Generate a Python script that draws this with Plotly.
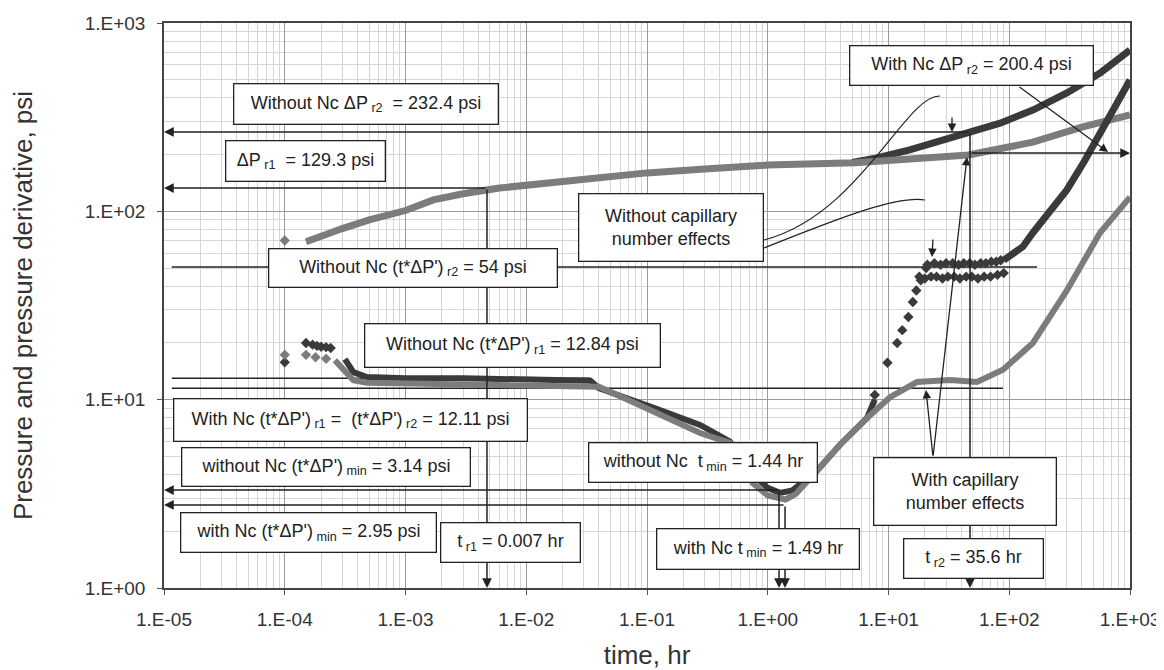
import math
import plotly.graph_objects as go

# ---------------- data ----------------
# Pressure with capillary number effects (gray)
pw_t = [1.5e-4, 2e-4, 3e-4, 5e-4, 1e-3, 1.7e-3, 3e-3, 6e-3, 1e-2, 3e-2, 0.1, 0.3, 1.0, 5.3, 12.4, 46, 157, 400, 1000]
pw_p = [69, 74, 81, 90, 101, 115, 124, 133, 138, 149, 160, 168, 176, 181, 187, 199, 233, 280, 325]
pw_first_t = [1.0e-4]
pw_first_p = [70]
# Pressure without capillary number effects (dark)
pn_t = [5.0, 8.0, 15, 23.4, 47, 84, 157, 300, 565, 1000]
pn_p = [182, 192, 212, 231, 262, 294, 345, 425, 542, 719]

# Derivative without Nc (dark)
dn_early_t = [1.0e-4, 1.5e-4, 1.7e-4, 1.85e-4, 2.0e-4, 2.2e-4, 2.4e-4]
dn_early_p = [15.8, 20.0, 19.6, 19.3, 19.1, 19.0, 18.8]
dn_t = [3.15e-4, 3.7e-4, 4.8e-4, 1e-3, 3e-3, 1e-2, 3.4e-2, 0.04, 0.077, 0.128, 0.275, 0.486, 0.755, 1.0, 1.26, 1.6, 2.56, 4.0, 6.64, 7.7]
dn_p = [16.4, 14.0, 13.2, 13.0, 13.0, 12.9, 12.6, 11.5, 10.0, 8.8, 7.34, 6.0, 4.0, 3.4, 3.2, 3.3, 4.2, 5.8, 8.0, 10.0]
dn_ramp_t = [7.7, 9.8, 11.8, 13.0, 14.6, 15.9, 17.0, 18.5, 20.5]
dn_ramp_p = [10.6, 15.7, 20.0, 23.4, 27.5, 33.0, 38.0, 43.0, 50.0]
dn_up_t = [21, 24, 27, 30, 34, 38, 42, 47, 52, 58, 64, 71, 78, 85]
dn_up_p = [52, 53, 52, 53, 53, 52, 53, 53, 52, 53, 53, 54, 54, 55]
dn_lo_t = [18, 20, 22.5, 25, 28, 31, 35, 39, 44, 49, 55, 62, 70, 80, 90]
dn_lo_p = [45, 44, 45, 45, 44, 45, 45, 44, 45, 45, 44, 45, 45, 46, 47]
dn_late_t = [90, 130, 157, 220, 300, 420, 565, 1000]
dn_late_p = [55, 65, 77, 100, 130, 185, 261, 498]

# Derivative with Nc (gray)
dw_early_t = [1.0e-4, 1.5e-4, 1.8e-4, 2.2e-4]
dw_early_p = [17.3, 17.3, 16.8, 16.5]
dw_t = [2.6e-4, 3.7e-4, 4.8e-4, 1e-3, 3e-3, 1e-2, 3.4e-2, 0.04, 0.077, 0.128, 0.275, 0.486, 0.6, 0.755, 1.0, 1.4, 1.7, 2.56, 4.0, 6.64, 10.3, 17.2, 32.3, 54, 88.7, 157, 180, 300, 565, 1000]
dw_p = [16.2, 12.7, 12.3, 12.2, 12.1, 12.0, 11.9, 11.7, 9.7, 8.3, 6.65, 5.9, 4.8, 3.6, 3.1, 2.95, 3.15, 4.2, 5.8, 8.0, 10.3, 12.4, 12.7, 12.4, 14.4, 20, 23, 38, 77, 119]

# Reference values (as drawn)
dp_r2_without = 264
dp_r2_with = 204
dp_r1 = 133
der_r2_without = 50.6
der_r1_without = 13.0
der_r1_with = 11.5
dmin_without = 3.31
dmin_with = 2.76
t_r1 = 0.00473
t_r2 = 47.3
tmin_without = 1.24
tmin_with = 1.39
t_left = 1e-5
t_right = 1000
der_line_start = 1.16e-5
der_r2_end = 170
der_r1_without_end = 0.034
der_r1_with_end = 88.7

x_ticks = [1e-5, 1e-4, 1e-3, 1e-2, 1e-1, 1, 10, 100, 1000]
x_ticktext = ["1.E-05", "1.E-04", "1.E-03", "1.E-02", "1.E-01", "1.E+00", "1.E+01", "1.E+02", "1.E+03"]
y_ticks = [1, 10, 100, 1000]
y_ticktext = ["1.E+00", "1.E+01", "1.E+02", "1.E+03"]

DARK = "#3a3a3a"
GRAY = "#7c7c7c"
INK = "#222222"
FONT = "Liberation Sans, Arial, sans-serif"

# ---------------- figure ----------------
OFF = 8                      # page body margin
W, H = 1156, 662
L, R, T, B = 156, 34, 15, 82
PW, PH = W - L - R, H - T - B


def px(x):                   # page pixel -> paper
    return (x - OFF - L) / PW


def py(y):
    return (H - B - (y - OFF)) / PH


fig = go.Figure()

# reference lines without arrowheads
for (x0, x1, yv) in [(der_line_start, der_r2_end, der_r2_without),
                     (der_line_start, der_r1_without_end, der_r1_without),
                     (der_line_start, der_r1_with_end, der_r1_with)]:
    fig.add_trace(go.Scatter(x=[x0, x1], y=[yv, yv], mode="lines",
                             line=dict(color=INK, width=1.6), hoverinfo="skip", showlegend=False))

# pressure curves
fig.add_trace(go.Scatter(x=pn_t, y=pn_p, mode="lines", line=dict(color=DARK, width=7),
                         showlegend=False))
fig.add_trace(go.Scatter(x=pw_t, y=pw_p, mode="lines", line=dict(color=GRAY, width=7),
                         showlegend=False))
fig.add_trace(go.Scatter(x=pw_first_t, y=pw_first_p, mode="markers",
                         marker=dict(symbol="diamond", size=8, color=GRAY), showlegend=False))

# derivative without Nc (dark)
fig.add_trace(go.Scatter(x=dn_t, y=dn_p, mode="lines", line=dict(color=DARK, width=6), showlegend=False))
for xs, ys in [(dn_early_t, dn_early_p), (dn_ramp_t, dn_ramp_p), (dn_up_t, dn_up_p), (dn_lo_t, dn_lo_p)]:
    fig.add_trace(go.Scatter(x=xs, y=ys, mode="markers",
                             marker=dict(symbol="diamond", size=8, color=DARK), showlegend=False))
fig.add_trace(go.Scatter(x=dn_late_t, y=dn_late_p, mode="lines", line=dict(color=DARK, width=7), showlegend=False))

# derivative with Nc (gray)
fig.add_trace(go.Scatter(x=dw_early_t, y=dw_early_p, mode="markers",
                         marker=dict(symbol="diamond", size=8, color=GRAY), showlegend=False))
fig.add_trace(go.Scatter(x=dw_t, y=dw_p, mode="lines", line=dict(color=GRAY, width=6), showlegend=False))

lg = math.log10
annotations = []


def data_arrow(hx, hy, tx, ty):
    annotations.append(dict(x=lg(hx), y=lg(hy), ax=lg(tx), ay=lg(ty), xref="x", yref="y",
                            axref="x", ayref="y", text="", showarrow=True, arrowhead=2,
                            arrowsize=1.3, arrowwidth=1.5, arrowcolor=INK, standoff=0))


# horizontal arrows to the left axis
data_arrow(t_left, dp_r2_without, t_r2, dp_r2_without)
data_arrow(t_left, dp_r1, t_r1, dp_r1)
data_arrow(t_left, dmin_without, tmin_without, dmin_without)
data_arrow(t_left, dmin_with, tmin_with, dmin_with)
# horizontal arrow to the right axis
data_arrow(t_right, dp_r2_with, t_r2, dp_r2_with)
# vertical arrows to the time axis
data_arrow(t_r1, 1, t_r1, dp_r1)
data_arrow(t_r2, 1, t_r2, dp_r2_without)
data_arrow(tmin_without, 1, tmin_without, dmin_without)
data_arrow(tmin_with, 1, tmin_with, dmin_with)


def pix_arrow(hx, hy, tx, ty):
    annotations.append(dict(x=px(hx), y=py(hy), xref="paper", yref="paper",
                            ax=tx - hx, ay=ty - hy, text="", showarrow=True, arrowhead=2,
                            arrowsize=1.3, arrowwidth=1.3, arrowcolor=INK, standoff=0))


pix_arrow(1108, 152, 1018, 86)
pix_arrow(926, 390, 933, 457)
pix_arrow(967, 157, 933, 457)
pix_arrow(952, 132, 952, 116)
pix_arrow(932, 257, 933, 238)

shapes = []


def curve(pts):
    s = "M {:.4f},{:.4f} C".format(px(pts[0][0]), py(pts[0][1]))
    s += " ".join(" {:.4f},{:.4f}".format(px(a), py(b)) for a, b in pts[1:])
    shapes.append(dict(type="path", path=s, xref="paper", yref="paper",
                       line=dict(color=INK, width=1.2)))


curve([(764, 240), (860, 215), (905, 95), (940, 96), (948, 97), (952, 104), (952, 118)])
curve([(764, 248), (830, 222), (895, 195), (925, 200), (935, 203), (933, 222), (933, 240)])

boxes = [
    ((233, 83, 499, 125), "Without Nc ΔP<sub> r2</sub>  = 232.4 psi", "center"),
    ((225, 140, 386, 182), "ΔP<sub> r1</sub>  = 129.3 psi", "center"),
    ((849, 45, 1094, 86), "With Nc ΔP<sub> r2</sub> = 200.4 psi", "center"),
    ((578, 193, 764, 262), "Without capillary<br>number effects", "center"),
    ((268, 248, 558, 288), "Without Nc (t*ΔP')<sub> r2</sub> = 54 psi", "center"),
    ((364, 323, 661, 368), "Without Nc (t*ΔP')<sub> r1</sub> = 12.84 psi", "center"),
    ((173, 398, 528, 442), "With Nc (t*ΔP')<sub> r1</sub> =  (t*ΔP')<sub> r2</sub> = 12.11 psi", "center"),
    ((181, 447, 471, 487), "without Nc (t*ΔP')<sub> min</sub> = 3.14 psi", "center"),
    ((180, 512, 437, 553), "with Nc (t*ΔP')<sub> min</sub> = 2.95 psi", "center"),
    ((440, 522, 581, 563), "t<sub> r1</sub> = 0.007 hr", "center"),
    ((588, 442, 818, 483), "without Nc  t<sub> min</sub> = 1.44 hr", "center"),
    ((656, 528, 860, 570), "with Nc t<sub> min</sub> = 1.49 hr", "center"),
    ((873, 457, 1057, 526), "With capillary<br>number effects", "center"),
    ((903, 538, 1044, 579), "t<sub> r2</sub> = 35.6 hr", "center"),
]
BW = 1.3
for (x0, y0, x1, y1), txt, al in boxes:
    annotations.append(dict(x=px(x0), y=py(y0), xref="paper", yref="paper", xanchor="left",
                            yanchor="top", text=txt, showarrow=False, align=al, valign="middle",
                            width=x1 - x0 - 2 * BW, height=y1 - y0 - 2 * BW, borderpad=0,
                            bordercolor=INK, borderwidth=BW, bgcolor="white",
                            font=dict(family=FONT, size=18, color=INK)))

minor_x = [d * 10 ** e for e in range(-5, 3) for d in range(2, 10)]
minor_y = [d * 10 ** e for e in range(0, 3) for d in range(2, 10)]

fig.update_layout(
    width=W, height=H, margin=dict(l=L, r=R, t=T, b=B, autoexpand=False),
    paper_bgcolor="white", plot_bgcolor="white",
    font=dict(family=FONT, color="#333333"),
    annotations=annotations, shapes=shapes, showlegend=False,
    xaxis=dict(type="log", range=[-5, 3], tickvals=x_ticks, ticktext=x_ticktext,
               tickfont=dict(size=19, color="#333"), ticks="outside", ticklen=5,
               tickcolor="#555", ticklabelstandoff=8, ticklabeloverflow="allow",
               showline=True, linecolor="#444", linewidth=1.5, mirror=True,
               showgrid=True, gridcolor="#9a9a9a", gridwidth=1,
               minor=dict(tickvals=minor_x, showgrid=True, gridcolor="#d6d6d6", gridwidth=1, ticks=""),
               title=dict(text="time, hr", font=dict(size=26, color="#333"), standoff=22),
               zeroline=False),
    yaxis=dict(type="log", range=[0, 3], tickvals=y_ticks, ticktext=y_ticktext,
               tickfont=dict(size=19, color="#333"), ticks="outside", ticklen=5,
               tickcolor="#555", ticklabelstandoff=8,
               showline=True, linecolor="#444", linewidth=1.5, mirror=True,
               showgrid=True, gridcolor="#9a9a9a", gridwidth=1,
               minor=dict(tickvals=minor_y, showgrid=True, gridcolor="#d6d6d6", gridwidth=1, ticks=""),
               title=dict(text="Pressure and pressure derivative, psi", font=dict(size=26, color="#333"),
                          standoff=60),
               zeroline=False),
)

fig.write_html("out.html")
